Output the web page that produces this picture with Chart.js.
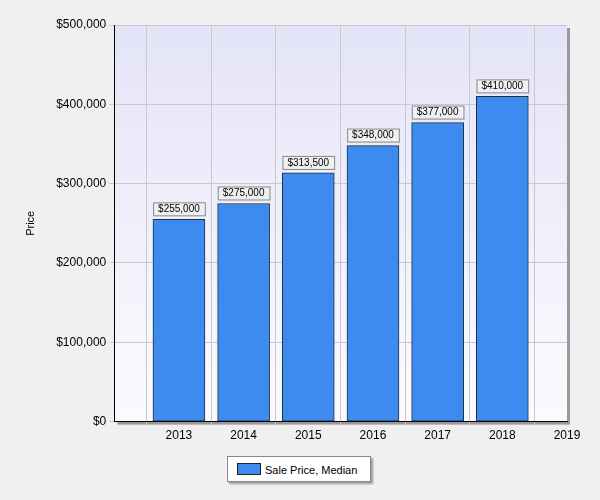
<!DOCTYPE html>
<html><head>
<script src="https://cdn.jsdelivr.net/npm/chart.js@4"></script>
<style>body{margin:0;background:#f0f0f0;font-family:Arial,"Liberation Sans",sans-serif}
#wrap{position:relative;width:600px;height:500px}
#legend{position:absolute;left:227px;top:456px;width:144px;height:26px;background:#fff;border:1px solid #888;box-shadow:2px 2px 2px #999;font-size:11px;line-height:26px;box-sizing:border-box}
#legend span{display:inline-block;width:22px;height:10px;background:#3d8bef;border:1px solid #222;margin:0 4px 0 9px;vertical-align:-1px}</style>
</head><body><div id="wrap"><canvas id="c" width="600" height="450"></canvas>
<div id="legend"><span></span>Sale Price, Median</div></div>
<script>
// Median sale price by year
const years = [2013, 2014, 2015, 2016, 2017, 2018];
const prices = [255000, 275000, 313500, 348000, 377000, 410000];
const yTicks = [0, 100000, 200000, 300000, 400000, 500000];

const fmt = v => '$' + v.toLocaleString('en-US');

const bgPlugin = {
    id: 'bg',
    beforeDraw(chart) {
        const {ctx, chartArea: a} = chart;
        ctx.save();
        ctx.fillStyle = '#999';
        ctx.fillRect(a.left + 3, a.top + 3, a.right - a.left, a.bottom - a.top);
        const g = ctx.createLinearGradient(0, a.top, 0, a.bottom);
        g.addColorStop(0, '#e4e4f8');
        g.addColorStop(1, '#fbfbfe');
        ctx.fillStyle = g;
        ctx.fillRect(a.left, a.top, a.right - a.left, a.bottom - a.top);
        ctx.restore();
    },
    afterDatasetsDraw(chart) {
        const {ctx} = chart;
        const meta = chart.getDatasetMeta(0);
        ctx.save();
        ctx.font = '10px Arial, "Liberation Sans"';
        ctx.textAlign = 'center';
        ctx.textBaseline = 'middle';
        meta.data.forEach((bar, i) => {
            const t = fmt(prices[i]);
            const w = ctx.measureText(t).width + 10;
            const y = bar.y - 11;
            ctx.fillStyle = '#f0f0f0';
            ctx.fillRect(bar.x - w / 2, y - 6, w, 13);
            ctx.strokeStyle = '#888';
            ctx.strokeRect(bar.x - w / 2 + 0.5, y - 6 + 0.5, w, 13);
            ctx.fillStyle = '#000';
            ctx.fillText(t, bar.x, y + 1);
        });
        ctx.restore();
    }
};

new Chart(document.getElementById('c'), {
    type: 'bar',
    data: {
        datasets: [{
            data: years.map((y, i) => ({x: y, y: prices[i]})),
            backgroundColor: '#3d8bef',
            borderColor: '#203040',
            borderWidth: 1,
            barThickness: 52,
            borderSkipped: false
        }]
    },
    options: {
        responsive: false,
        animation: false,
        layout: {padding: {left: 20, right: 33, top: 25, bottom: 4}},
        plugins: {legend: {display: false}, tooltip: {enabled: false}},
        scales: {
            x: {
                type: 'linear', min: 2012, max: 2019, offset: false,
                afterBuildTicks: ax => { ax.ticks = [2013, 2014, 2015, 2016, 2017, 2018, 2019].map(v => ({value: v})); },
                ticks: {color: '#000', font: {size: 12}, callback: v => String(v)},
                grid: {color: '#c8c8d0', drawTicks: true, tickLength: 4},
                border: {color: '#000', width: 1}
            },
            y: {
                min: 0, max: 500000,
                afterBuildTicks: ax => { ax.ticks = yTicks.map(v => ({value: v})); },
                ticks: {color: '#000', font: {size: 12}, callback: v => fmt(v)},
                grid: {color: '#c8c8d0', tickLength: 5},
                border: {color: '#000', width: 1},
                title: {display: true, text: 'Price', color: '#000', font: {size: 11}, padding: {bottom: 16}}
            }
        }
    },
    plugins: [bgPlugin]
});
</script></body></html>
